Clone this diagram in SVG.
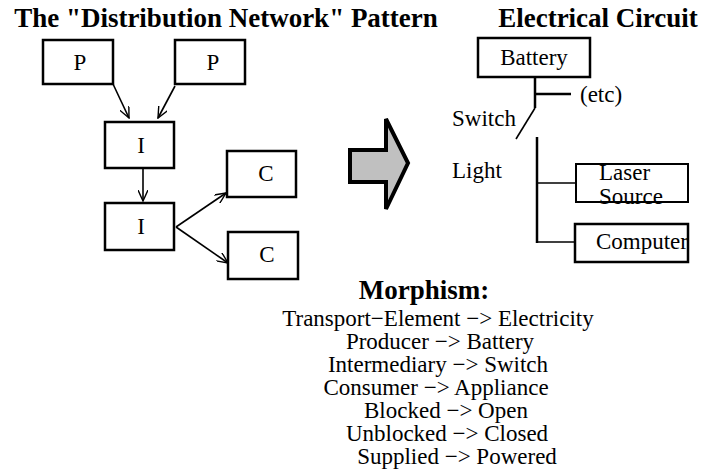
<svg xmlns="http://www.w3.org/2000/svg" width="701" height="471" viewBox="0 0 701 471">
<defs>
<marker id="ah" viewBox="0 0 12 10" refX="11" refY="5" markerWidth="12" markerHeight="10" markerUnits="userSpaceOnUse" orient="auto">
<path d="M0,0 L11,5 L0,10" fill="none" stroke="#000" stroke-width="1.4"/>
</marker>
<style>
.t{font-family:"Liberation Serif","Times New Roman",serif;fill:#000}
.h{font-size:27px;font-weight:bold}
.n{font-size:23px}
.box{fill:#fff;stroke:#000;stroke-width:2.5}
.wire{stroke:#000;stroke-width:2.5;fill:none}
.c{stroke:#000;stroke-width:1.6;fill:none}
</style>
</defs>
<rect width="701" height="471" fill="#fff"/>
<text class="t h" x="226" y="27" text-anchor="middle">The "Distribution Network" Pattern</text>
<text class="t h" x="598" y="27" text-anchor="middle">Electrical Circuit</text>

<g id="connectors">
<line class="c" x1="113" y1="84" x2="129" y2="118" marker-end="url(#ah)"/>
<line class="c" x1="175" y1="86" x2="158" y2="118" marker-end="url(#ah)"/>
<line class="c" x1="143" y1="168" x2="143" y2="201" marker-end="url(#ah)"/>
<line class="c" x1="176" y1="227" x2="226" y2="193" marker-end="url(#ah)"/>
<line class="c" x1="176" y1="227" x2="228" y2="263" marker-end="url(#ah)"/>
</g>

<g id="p1"><rect class="box" x="43" y="40" width="70" height="44"/><text class="t n" x="80" y="70" text-anchor="middle">P</text></g>
<g id="p2"><rect class="box" x="175" y="40" width="70" height="44"/><text class="t n" x="213" y="70" text-anchor="middle">P</text></g>
<g id="i1"><rect class="box" x="105" y="122" width="69" height="46"/><text class="t n" x="141" y="153" text-anchor="middle">I</text></g>
<g id="i2"><rect class="box" x="105" y="203" width="69" height="47"/><text class="t n" x="141" y="234" text-anchor="middle">I</text></g>
<g id="c1"><rect class="box" x="227" y="151" width="69" height="46"/><text class="t n" x="266" y="181" text-anchor="middle">C</text></g>
<g id="c2"><rect class="box" x="228" y="232" width="70" height="47"/><text class="t n" x="267" y="262" text-anchor="middle">C</text></g>

<g id="bigarrow"><polygon points="350,150 386,150 386,119 408,163 386,209 386,182 350,182" fill="#c0c0c0" stroke="#000" stroke-width="4" stroke-linejoin="miter"/></g>

<g id="circuit">
<line class="wire" x1="535" y1="77" x2="535" y2="108"/>
<line class="wire" x1="535" y1="94" x2="571" y2="94"/>
<line class="c" x1="535" y1="108" x2="516" y2="139"/>
<line class="wire" x1="537" y1="137" x2="537" y2="243"/>
<line class="c" x1="537" y1="183" x2="577" y2="183"/>
<line class="c" x1="537" y1="242" x2="577" y2="242"/>
<text class="t n" x="580" y="102">(etc)</text>
<text class="t n" x="452" y="126">Switch</text>
<text class="t n" x="452" y="178">Light</text>
</g>
<g id="battery"><rect class="box" x="478" y="38" width="112" height="39" stroke-width="2"/><text class="t n" x="534" y="65" text-anchor="middle">Battery</text></g>
<g id="laser"><text class="t n" x="599" y="180" font-size="22">Laser</text><text class="t n" x="599" y="204" font-size="22">Source</text><rect x="576" y="164" width="112" height="38" fill="none" stroke="#000" stroke-width="2"/></g>
<g id="computer"><rect class="box" x="575" y="224" width="113" height="38" stroke-width="2"/><text class="t n" x="596" y="249">Computer</text></g>

<g id="morphism">
<text class="t h" x="424" y="299" text-anchor="middle">Morphism:</text>
<text class="t n" x="438" y="326" text-anchor="middle">Transport−Element −&gt; Electricity</text>
<text class="t n" x="440" y="349" text-anchor="middle">Producer −&gt; Battery</text>
<text class="t n" x="438" y="372" text-anchor="middle">Intermediary −&gt; Switch</text>
<text class="t n" x="436" y="395" text-anchor="middle">Consumer −&gt; Appliance</text>
<text class="t n" x="446" y="418" text-anchor="middle">Blocked −&gt; Open</text>
<text class="t n" x="447" y="441" text-anchor="middle">Unblocked −&gt; Closed</text>
<text class="t n" x="457" y="464" text-anchor="middle">Supplied −&gt; Powered</text>
</g>
</svg>
